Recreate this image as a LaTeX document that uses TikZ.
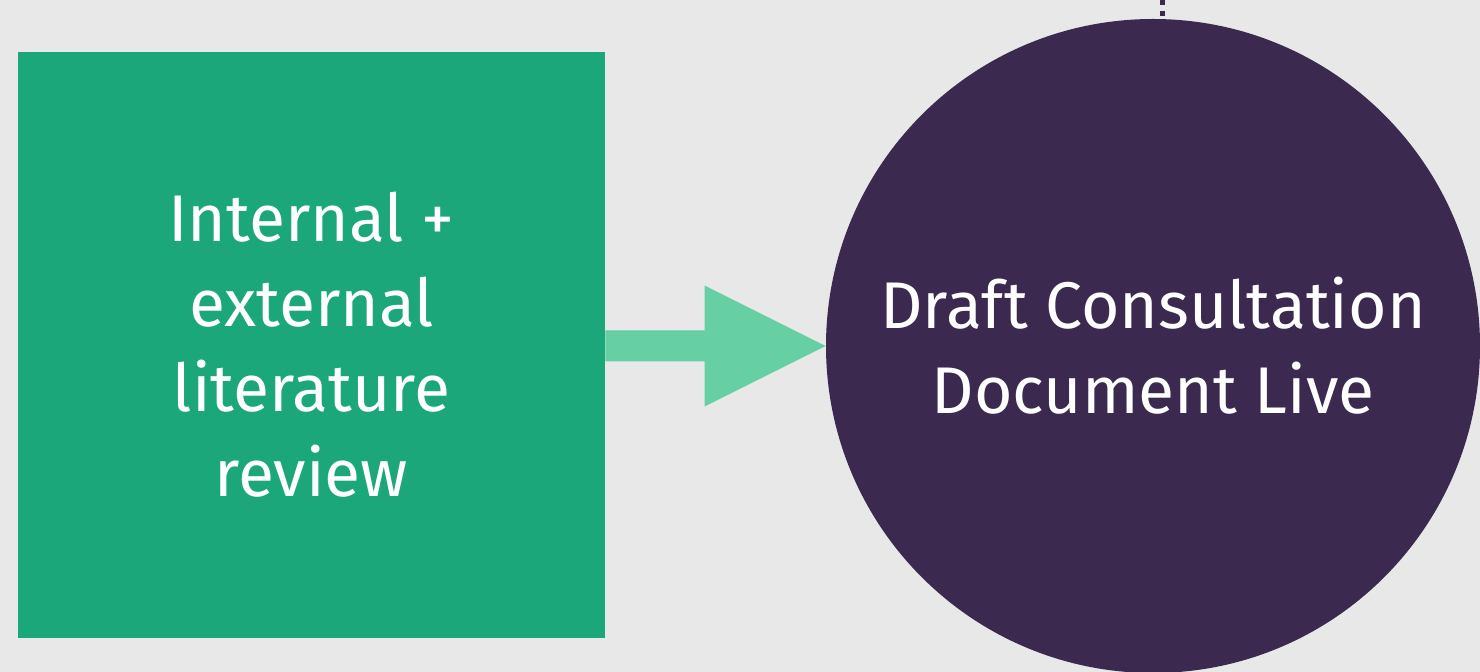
\documentclass[tikz,border=0pt]{standalone}
\usepackage{fontspec}
\setmainfont{Fira Sans}
\usetikzlibrary{calc}
\definecolor{bg}{HTML}{E8E8E8}
\definecolor{boxgreen}{HTML}{1BA779}
\definecolor{arrowgreen}{HTML}{66CFA4}
\definecolor{plum}{HTML}{3B2950}
\tikzset{
  px/.style={x=0.5pt,y=-0.5pt},
  txt/.style={text=white,align=center,font=\fontsize{33}{42.5}\selectfont},
  greenbox/.style={fill=boxgreen,minimum width=293.5pt,minimum height=293pt,inner sep=0pt,txt},
  plumcircle/.style={circle,fill=plum,minimum size=327pt,inner sep=0pt,txt},
  dotline/.style={draw=plum,line width=2.5pt,dash pattern=on 2.5pt off 3pt}
}
\begin{document}
\begin{tikzpicture}[px]
\fill[bg] (0,0) rectangle (1480,672);
\useasboundingbox (0,0) rectangle (1480,672);
\coordinate (dtop) at (1162,0);
\coordinate (dbot) at (1162,30);
\draw[dotline] (dtop) -- (dbot);
\node[greenbox] (box) at (311.5,345) {Internal +\\external\\literature\\review};
\node[plumcircle] (circ) at (1153,346) {Draft Consultation\\Document Live};
\coordinate (start) at (box.east |- circ.west);
\fill[arrowgreen] ($(start)+(0,-15.5)$) -- ($(circ.west)+(-121,-15.5)$) -- ($(circ.west)+(-121,-60.5)$)
  -- (circ.west) -- ($(circ.west)+(-121,60.5)$) -- ($(circ.west)+(-121,15.5)$) -- ($(start)+(0,15.5)$) -- cycle;
\end{tikzpicture}
\end{document}
